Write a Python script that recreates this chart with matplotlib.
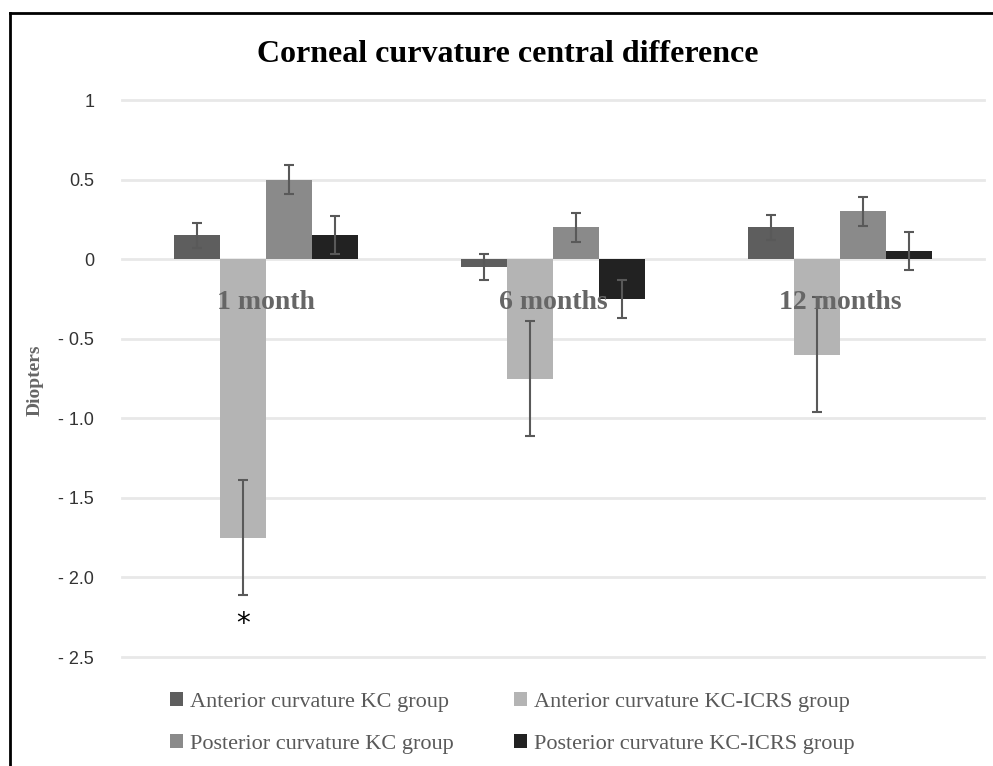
import matplotlib
matplotlib.use('Agg')
import matplotlib.pyplot as plt
from matplotlib.patches import Patch
from matplotlib.lines import Line2D
import numpy as np

# data
periods = ['1 month', '6 months', '12 months']
series = ['Anterior curvature KC group', 'Anterior curvature KC-ICRS group',
          'Posterior curvature KC group', 'Posterior curvature KC-ICRS group']
ant_kc = [0.15, -0.05, 0.20]
ant_icrs = [-1.75, -0.75, -0.60]
post_kc = [0.50, 0.20, 0.30]
post_icrs = [0.15, -0.25, 0.05]
err_ant_kc = [0.08, 0.08, 0.08]
err_ant_icrs = [0.36, 0.36, 0.36]
err_post_kc = [0.09, 0.09, 0.09]
err_post_icrs = [0.12, 0.12, 0.12]
yticks = [1, 0.5, 0, -0.5, -1.0, -1.5, -2.0, -2.5]
ytick_labels = ['1', '0.5', '0', '- 0.5', '- 1.0', '- 1.5', '- 2.0', '- 2.5']
star_y = -2.29

colors = ['#5e5e5e', '#b4b4b4', '#8a8a8a', '#222222']
values = [ant_kc, ant_icrs, post_kc, post_icrs]
errors = [err_ant_kc, err_ant_icrs, err_post_kc, err_post_icrs]

fig = plt.figure(figsize=(9.93, 7.66), dpi=100)
W, H = 993, 766
ax = fig.add_axes([122/W, 1-657/H, (984-122)/W, (657-100)/H])

x = np.arange(len(periods))
w = 0.16
for i in range(4):
    pos = x + (i - 1.5)*w
    ax.bar(pos, values[i], w, color=colors[i], zorder=3)
    ax.errorbar(pos, values[i], yerr=errors[i], fmt='none', ecolor='#595959',
                elinewidth=1.5, capsize=3.5, capthick=1.5, zorder=4)

ax.set_xlim(-0.5, 2.5)
ax.set_ylim(-2.5, 1)
ax.set_yticks(yticks)
ax.set_yticklabels(ytick_labels, fontsize=13, color='#333333',
                   fontfamily='Liberation Sans')
ax.tick_params(axis='y', length=0, pad=20)
ax.set_xticks([])
for s in ax.spines.values():
    s.set_visible(False)
ax.yaxis.grid(True, color='#e8e8e8', linewidth=2)
for gl in ax.get_ygridlines():
    gl.set_clip_on(False)
ax.set_axisbelow(True)

# period names sit just under the zero line
for i, p in enumerate(periods):
    ax.text(x[i], -0.27, p, ha='center', va='center', fontsize=20,
            fontweight='bold', color='#666666', fontfamily='Liberation Serif',
            zorder=5)

ax.text(x[0] - 0.5*w, star_y, '*', ha='center', va='center', fontsize=20,
        color='black', zorder=5)

fig.text(508/W, 1-55/H, 'Corneal curvature central difference', ha='center',
         va='center', fontsize=23, fontweight='bold', fontfamily='Liberation Serif')
fig.text(35/W, 1-380/H, 'Diopters', rotation=90, ha='center', va='center',
         fontsize=14, fontweight='bold', color='#666666',
         fontfamily='Liberation Serif')

# legend fills column-first, so reorder to get rows like the reference
handles = [Patch(facecolor=c) for c in colors]
order = [0, 2, 1, 3]
leg = fig.legend([handles[k] for k in order], [series[k] for k in order],
                 ncol=2, loc='upper left', bbox_to_anchor=(170/W, 1-692/H),
                 frameon=False, borderpad=0, borderaxespad=0,
                 handlelength=0.6, handleheight=0.6, handletextpad=0.3,
                 columnspacing=2.7, labelspacing=1.0,
                 prop={'family': 'Liberation Serif', 'size': 16})
for t in leg.get_texts():
    t.set_color('#595959')

# frame lines at top and left of the reference
fig.add_artist(Line2D([10/W, 1], [1-13/H, 1-13/H], color='black', linewidth=2))
fig.add_artist(Line2D([10/W, 10/W], [0, 1-13/H], color='black', linewidth=2))

fig.savefig('out.png', dpi=100)
